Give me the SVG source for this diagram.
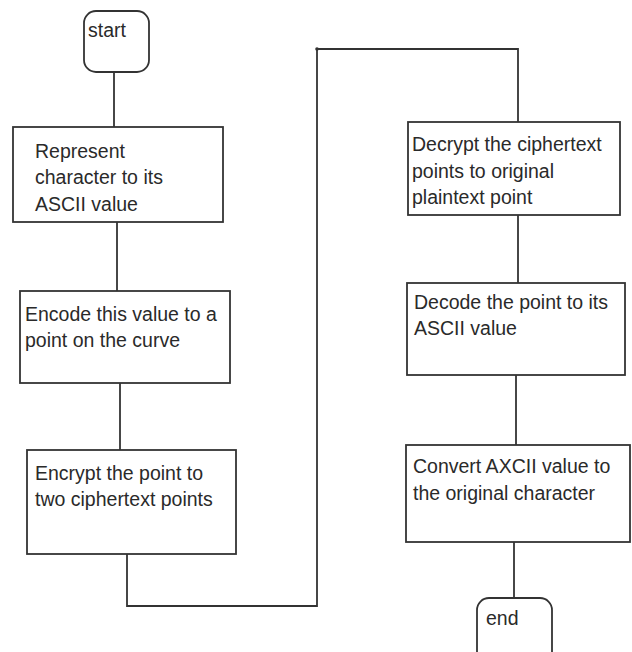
<svg xmlns="http://www.w3.org/2000/svg" width="632" height="652" viewBox="0 0 632 652">
<style>
.box{fill:#fff;stroke:#333;stroke-width:1.8}
.ln{fill:none;stroke:#333;stroke-width:1.8}
text{font-family:"Liberation Sans",Arial,sans-serif;font-size:19.5px;fill:#2a2a2a}
</style>
<rect width="632" height="652" fill="#fff"/>
<g id="connectors">
<path class="ln" d="M114,72 V127"/>
<path class="ln" d="M117,222 V291"/>
<path class="ln" d="M120,383 V450"/>
<path class="ln" d="M127,554 V606 H317 V49 H518 V122"/>
<circle cx="317" cy="49" r="1.8" fill="#333"/>
<path class="ln" d="M518,215 V283"/>
<path class="ln" d="M516,375 V445"/>
<path class="ln" d="M514,542 V598"/>
</g>
<g id="start">
<rect class="box" x="84" y="11" width="65" height="61" rx="12"/>
<text x="88" y="37">start</text>
</g>
<g id="represent">
<rect class="box" x="13" y="127" width="210" height="95"/>
<text x="35" y="158">Represent</text>
<text x="35" y="184">character to its</text>
<text x="35" y="211">ASCII value</text>
</g>
<g id="encode">
<rect class="box" x="20" y="291" width="210" height="92"/>
<text x="25" y="321">Encode this value to a</text>
<text x="25" y="347">point on the curve</text>
</g>
<g id="encrypt">
<rect class="box" x="27" y="450" width="209" height="104"/>
<text x="35" y="480">Encrypt the point to</text>
<text x="35" y="506">two ciphertext points</text>
</g>
<g id="decrypt">
<rect class="box" x="408" y="122" width="212" height="93"/>
<text x="412" y="151">Decrypt the ciphertext</text>
<text x="412" y="178">points to original</text>
<text x="412" y="204">plaintext point</text>
</g>
<g id="decode">
<rect class="box" x="407" y="283" width="218" height="92"/>
<text x="414" y="309">Decode the point to its</text>
<text x="414" y="335">ASCII value</text>
</g>
<g id="convert">
<rect class="box" x="406" y="445" width="224" height="97"/>
<text x="413" y="473">Convert AXCII value to</text>
<text x="413" y="500">the original character</text>
</g>
<g id="end">
<rect class="box" x="477" y="598" width="75" height="70" rx="12"/>
<text x="486" y="625">end</text>
</g>
</svg>
